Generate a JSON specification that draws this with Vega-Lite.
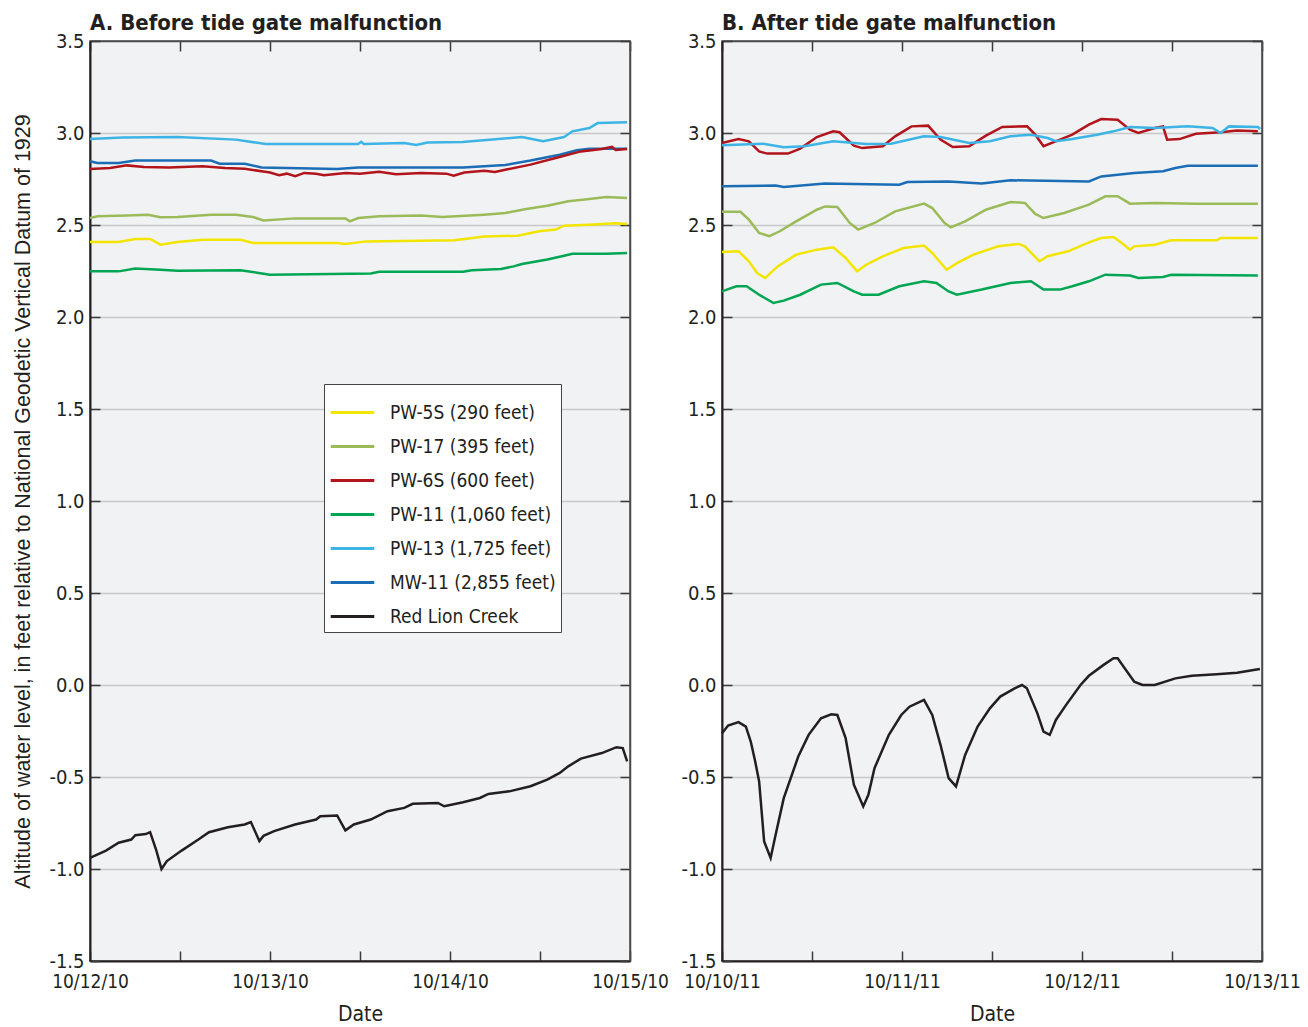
{
"$schema": "https://vega.github.io/schema/vega-lite/v6.json",
"autosize": {"type": "pad"},
"padding": {"left": 12, "top": 11, "right": 5, "bottom": 0},
"background": "white",
"spacing": 92,
"bounds": "flush",
"resolve": {"scale": {"x": "independent", "y": "independent", "color": "independent"}, "legend": {"color": "independent"}},
"config": {
  "view": {"fill": "#f1f2f4", "stroke": "#4a4a4a", "strokeWidth": 1.5},
  "axis": {"labelFont": "DejaVu Sans Condensed, Roboto, sans-serif", "labelFontSize": 19, "labelColor": "#231f20", "titleFont": "DejaVu Sans Condensed, Roboto, sans-serif", "titleFontSize": 21, "titleFontWeight": "normal", "titleColor": "#231f20", "domainColor": "#231f20", "domainWidth": 2, "tickColor": "#3a3a3a", "tickWidth": 1.5, "tickSize": -10, "gridColor": "#c8c8c8", "gridWidth": 1.5, "labelOverlap": false, "labelBound": false, "labelFlush": false},
  "title": {"font": "DejaVu Sans Condensed, Roboto, sans-serif", "fontSize": 22, "fontWeight": "bold", "color": "#231f20", "anchor": "start", "frame": "group", "offset": -4},
  "legend": {"labelFont": "DejaVu Sans Condensed, Roboto, sans-serif", "labelFontSize": 19, "labelColor": "#231f20", "labelLimit": 400}
},
"datasets": {"d": [
{"p":"A","s":"Red Lion Creek","t":"2010-10-12T00:00","v":-0.94},
{"p":"A","s":"Red Lion Creek","t":"2010-10-12T02:08","v":-0.90},
{"p":"A","s":"Red Lion Creek","t":"2010-10-12T03:49","v":-0.857},
{"p":"A","s":"Red Lion Creek","t":"2010-10-12T05:30","v":-0.84},
{"p":"A","s":"Red Lion Creek","t":"2010-10-12T06:03","v":-0.816},
{"p":"A","s":"Red Lion Creek","t":"2010-10-12T07:26","v":-0.81},
{"p":"A","s":"Red Lion Creek","t":"2010-10-12T08:01","v":-0.80},
{"p":"A","s":"Red Lion Creek","t":"2010-10-12T08:51","v":-0.90},
{"p":"A","s":"Red Lion Creek","t":"2010-10-12T09:32","v":-1.0},
{"p":"A","s":"Red Lion Creek","t":"2010-10-12T10:15","v":-0.957},
{"p":"A","s":"Red Lion Creek","t":"2010-10-12T12:13","v":-0.90},
{"p":"A","s":"Red Lion Creek","t":"2010-10-12T14:27","v":-0.84},
{"p":"A","s":"Red Lion Creek","t":"2010-10-12T15:52","v":-0.80},
{"p":"A","s":"Red Lion Creek","t":"2010-10-12T18:23","v":-0.773},
{"p":"A","s":"Red Lion Creek","t":"2010-10-12T20:37","v":-0.758},
{"p":"A","s":"Red Lion Creek","t":"2010-10-12T21:27","v":-0.745},
{"p":"A","s":"Red Lion Creek","t":"2010-10-12T22:35","v":-0.848},
{"p":"A","s":"Red Lion Creek","t":"2010-10-12T23:08","v":-0.82},
{"p":"A","s":"Red Lion Creek","t":"2010-10-13T00:33","v":-0.794},
{"p":"A","s":"Red Lion Creek","t":"2010-10-13T03:20","v":-0.758},
{"p":"A","s":"Red Lion Creek","t":"2010-10-13T06:09","v":-0.731},
{"p":"A","s":"Red Lion Creek","t":"2010-10-13T06:42","v":-0.713},
{"p":"A","s":"Red Lion Creek","t":"2010-10-13T08:57","v":-0.709},
{"p":"A","s":"Red Lion Creek","t":"2010-10-13T10:03","v":-0.79},
{"p":"A","s":"Red Lion Creek","t":"2010-10-13T11:11","v":-0.758},
{"p":"A","s":"Red Lion Creek","t":"2010-10-13T13:26","v":-0.731},
{"p":"A","s":"Red Lion Creek","t":"2010-10-13T15:40","v":-0.686},
{"p":"A","s":"Red Lion Creek","t":"2010-10-13T17:54","v":-0.668},
{"p":"A","s":"Red Lion Creek","t":"2010-10-13T19:02","v":-0.646},
{"p":"A","s":"Red Lion Creek","t":"2010-10-13T22:23","v":-0.641},
{"p":"A","s":"Red Lion Creek","t":"2010-10-13T23:14","v":-0.659},
{"p":"A","s":"Red Lion Creek","t":"2010-10-14T01:45","v":-0.637},
{"p":"A","s":"Red Lion Creek","t":"2010-10-14T03:59","v":-0.614},
{"p":"A","s":"Red Lion Creek","t":"2010-10-14T05:07","v":-0.592},
{"p":"A","s":"Red Lion Creek","t":"2010-10-14T07:55","v":-0.578},
{"p":"A","s":"Red Lion Creek","t":"2010-10-14T10:44","v":-0.55},
{"p":"A","s":"Red Lion Creek","t":"2010-10-14T12:58","v":-0.514},
{"p":"A","s":"Red Lion Creek","t":"2010-10-14T14:38","v":-0.478},
{"p":"A","s":"Red Lion Creek","t":"2010-10-14T15:46","v":-0.442},
{"p":"A","s":"Red Lion Creek","t":"2010-10-14T17:27","v":-0.40},
{"p":"A","s":"Red Lion Creek","t":"2010-10-14T20:15","v":-0.37},
{"p":"A","s":"Red Lion Creek","t":"2010-10-14T22:12","v":-0.338},
{"p":"A","s":"Red Lion Creek","t":"2010-10-14T23:02","v":-0.343},
{"p":"A","s":"Red Lion Creek","t":"2010-10-14T23:37","v":-0.415},
{"p":"A","s":"PW-13 (1,725 feet)","t":"2010-10-12T00:00","v":2.967},
{"p":"A","s":"PW-13 (1,725 feet)","t":"2010-10-12T04:19","v":2.976},
{"p":"A","s":"PW-13 (1,725 feet)","t":"2010-10-12T11:40","v":2.978},
{"p":"A","s":"PW-13 (1,725 feet)","t":"2010-10-12T19:26","v":2.964},
{"p":"A","s":"PW-13 (1,725 feet)","t":"2010-10-12T23:25","v":2.94},
{"p":"A","s":"PW-13 (1,725 feet)","t":"2010-10-13T11:46","v":2.94},
{"p":"A","s":"PW-13 (1,725 feet)","t":"2010-10-13T12:10","v":2.952},
{"p":"A","s":"PW-13 (1,725 feet)","t":"2010-10-13T12:30","v":2.94},
{"p":"A","s":"PW-13 (1,725 feet)","t":"2010-10-13T17:54","v":2.946},
{"p":"A","s":"PW-13 (1,725 feet)","t":"2010-10-13T19:30","v":2.935},
{"p":"A","s":"PW-13 (1,725 feet)","t":"2010-10-13T21:00","v":2.948},
{"p":"A","s":"PW-13 (1,725 feet)","t":"2010-10-14T01:41","v":2.951},
{"p":"A","s":"PW-13 (1,725 feet)","t":"2010-10-14T09:36","v":2.978},
{"p":"A","s":"PW-13 (1,725 feet)","t":"2010-10-14T12:25","v":2.955},
{"p":"A","s":"PW-13 (1,725 feet)","t":"2010-10-14T15:13","v":2.978},
{"p":"A","s":"PW-13 (1,725 feet)","t":"2010-10-14T16:19","v":3.009},
{"p":"A","s":"PW-13 (1,725 feet)","t":"2010-10-14T18:35","v":3.027},
{"p":"A","s":"PW-13 (1,725 feet)","t":"2010-10-14T19:41","v":3.054},
{"p":"A","s":"PW-13 (1,725 feet)","t":"2010-10-14T23:37","v":3.058},
{"p":"A","s":"MW-11 (2,855 feet)","t":"2010-10-12T00:00","v":2.846},
{"p":"A","s":"MW-11 (2,855 feet)","t":"2010-10-12T00:58","v":2.837},
{"p":"A","s":"MW-11 (2,855 feet)","t":"2010-10-12T03:49","v":2.837},
{"p":"A","s":"MW-11 (2,855 feet)","t":"2010-10-12T06:03","v":2.85},
{"p":"A","s":"MW-11 (2,855 feet)","t":"2010-10-12T16:08","v":2.85},
{"p":"A","s":"MW-11 (2,855 feet)","t":"2010-10-12T17:17","v":2.833},
{"p":"A","s":"MW-11 (2,855 feet)","t":"2010-10-12T20:38","v":2.833},
{"p":"A","s":"MW-11 (2,855 feet)","t":"2010-10-12T22:52","v":2.813},
{"p":"A","s":"MW-11 (2,855 feet)","t":"2010-10-13T08:57","v":2.804},
{"p":"A","s":"MW-11 (2,855 feet)","t":"2010-10-13T11:46","v":2.813},
{"p":"A","s":"MW-11 (2,855 feet)","t":"2010-10-14T01:45","v":2.813},
{"p":"A","s":"MW-11 (2,855 feet)","t":"2010-10-14T07:22","v":2.826},
{"p":"A","s":"MW-11 (2,855 feet)","t":"2010-10-14T10:44","v":2.85},
{"p":"A","s":"MW-11 (2,855 feet)","t":"2010-10-14T14:38","v":2.882},
{"p":"A","s":"MW-11 (2,855 feet)","t":"2010-10-14T16:54","v":2.906},
{"p":"A","s":"MW-11 (2,855 feet)","t":"2010-10-14T18:35","v":2.915},
{"p":"A","s":"MW-11 (2,855 feet)","t":"2010-10-14T23:37","v":2.915},
{"p":"A","s":"PW-6S (600 feet)","t":"2010-10-12T00:00","v":2.804},
{"p":"A","s":"PW-6S (600 feet)","t":"2010-10-12T02:41","v":2.81},
{"p":"A","s":"PW-6S (600 feet)","t":"2010-10-12T04:55","v":2.824},
{"p":"A","s":"PW-6S (600 feet)","t":"2010-10-12T07:12","v":2.815},
{"p":"A","s":"PW-6S (600 feet)","t":"2010-10-12T10:32","v":2.813},
{"p":"A","s":"PW-6S (600 feet)","t":"2010-10-12T15:01","v":2.819},
{"p":"A","s":"PW-6S (600 feet)","t":"2010-10-12T18:00","v":2.81},
{"p":"A","s":"PW-6S (600 feet)","t":"2010-10-12T20:38","v":2.806},
{"p":"A","s":"PW-6S (600 feet)","t":"2010-10-12T22:52","v":2.792},
{"p":"A","s":"PW-6S (600 feet)","t":"2010-10-13T00:00","v":2.785},
{"p":"A","s":"PW-6S (600 feet)","t":"2010-10-13T01:12","v":2.77},
{"p":"A","s":"PW-6S (600 feet)","t":"2010-10-13T02:14","v":2.779},
{"p":"A","s":"PW-6S (600 feet)","t":"2010-10-13T03:22","v":2.765},
{"p":"A","s":"PW-6S (600 feet)","t":"2010-10-13T04:34","v":2.783},
{"p":"A","s":"PW-6S (600 feet)","t":"2010-10-13T06:09","v":2.779},
{"p":"A","s":"PW-6S (600 feet)","t":"2010-10-13T07:12","v":2.77},
{"p":"A","s":"PW-6S (600 feet)","t":"2010-10-13T10:05","v":2.783},
{"p":"A","s":"PW-6S (600 feet)","t":"2010-10-13T12:00","v":2.778},
{"p":"A","s":"PW-6S (600 feet)","t":"2010-10-13T14:33","v":2.79},
{"p":"A","s":"PW-6S (600 feet)","t":"2010-10-13T16:48","v":2.776},
{"p":"A","s":"PW-6S (600 feet)","t":"2010-10-13T20:10","v":2.783},
{"p":"A","s":"PW-6S (600 feet)","t":"2010-10-13T23:31","v":2.779},
{"p":"A","s":"PW-6S (600 feet)","t":"2010-10-14T00:29","v":2.768},
{"p":"A","s":"PW-6S (600 feet)","t":"2010-10-14T01:55","v":2.785},
{"p":"A","s":"PW-6S (600 feet)","t":"2010-10-14T04:34","v":2.795},
{"p":"A","s":"PW-6S (600 feet)","t":"2010-10-14T06:00","v":2.788},
{"p":"A","s":"PW-6S (600 feet)","t":"2010-10-14T07:22","v":2.8},
{"p":"A","s":"PW-6S (600 feet)","t":"2010-10-14T10:44","v":2.828},
{"p":"A","s":"PW-6S (600 feet)","t":"2010-10-14T14:05","v":2.864},
{"p":"A","s":"PW-6S (600 feet)","t":"2010-10-14T17:27","v":2.9},
{"p":"A","s":"PW-6S (600 feet)","t":"2010-10-14T20:15","v":2.913},
{"p":"A","s":"PW-6S (600 feet)","t":"2010-10-14T21:36","v":2.925},
{"p":"A","s":"PW-6S (600 feet)","t":"2010-10-14T22:05","v":2.908},
{"p":"A","s":"PW-6S (600 feet)","t":"2010-10-14T23:37","v":2.913},
{"p":"A","s":"PW-17 (395 feet)","t":"2010-10-12T00:00","v":2.538},
{"p":"A","s":"PW-17 (395 feet)","t":"2010-10-12T01:00","v":2.547},
{"p":"A","s":"PW-17 (395 feet)","t":"2010-10-12T04:55","v":2.551},
{"p":"A","s":"PW-17 (395 feet)","t":"2010-10-12T07:44","v":2.556},
{"p":"A","s":"PW-17 (395 feet)","t":"2010-10-12T09:24","v":2.542},
{"p":"A","s":"PW-17 (395 feet)","t":"2010-10-12T11:40","v":2.543},
{"p":"A","s":"PW-17 (395 feet)","t":"2010-10-12T16:08","v":2.556},
{"p":"A","s":"PW-17 (395 feet)","t":"2010-10-12T19:26","v":2.556},
{"p":"A","s":"PW-17 (395 feet)","t":"2010-10-12T21:45","v":2.543},
{"p":"A","s":"PW-17 (395 feet)","t":"2010-10-12T23:08","v":2.525},
{"p":"A","s":"PW-17 (395 feet)","t":"2010-10-13T03:20","v":2.536},
{"p":"A","s":"PW-17 (395 feet)","t":"2010-10-13T10:05","v":2.536},
{"p":"A","s":"PW-17 (395 feet)","t":"2010-10-13T10:38","v":2.52},
{"p":"A","s":"PW-17 (395 feet)","t":"2010-10-13T11:46","v":2.538},
{"p":"A","s":"PW-17 (395 feet)","t":"2010-10-13T14:33","v":2.547},
{"p":"A","s":"PW-17 (395 feet)","t":"2010-10-13T20:10","v":2.551},
{"p":"A","s":"PW-17 (395 feet)","t":"2010-10-13T22:58","v":2.543},
{"p":"A","s":"PW-17 (395 feet)","t":"2010-10-14T04:34","v":2.556},
{"p":"A","s":"PW-17 (395 feet)","t":"2010-10-14T07:22","v":2.565},
{"p":"A","s":"PW-17 (395 feet)","t":"2010-10-14T10:10","v":2.587},
{"p":"A","s":"PW-17 (395 feet)","t":"2010-10-14T12:58","v":2.605},
{"p":"A","s":"PW-17 (395 feet)","t":"2010-10-14T15:46","v":2.629},
{"p":"A","s":"PW-17 (395 feet)","t":"2010-10-14T18:35","v":2.641},
{"p":"A","s":"PW-17 (395 feet)","t":"2010-10-14T20:50","v":2.652},
{"p":"A","s":"PW-17 (395 feet)","t":"2010-10-14T23:37","v":2.647},
{"p":"A","s":"PW-5S (290 feet)","t":"2010-10-12T00:00","v":2.408},
{"p":"A","s":"PW-5S (290 feet)","t":"2010-10-12T03:49","v":2.408},
{"p":"A","s":"PW-5S (290 feet)","t":"2010-10-12T06:03","v":2.424},
{"p":"A","s":"PW-5S (290 feet)","t":"2010-10-12T08:01","v":2.424},
{"p":"A","s":"PW-5S (290 feet)","t":"2010-10-12T09:24","v":2.393},
{"p":"A","s":"PW-5S (290 feet)","t":"2010-10-12T11:40","v":2.408},
{"p":"A","s":"PW-5S (290 feet)","t":"2010-10-12T15:01","v":2.42},
{"p":"A","s":"PW-5S (290 feet)","t":"2010-10-12T20:04","v":2.42},
{"p":"A","s":"PW-5S (290 feet)","t":"2010-10-12T21:45","v":2.402},
{"p":"A","s":"PW-5S (290 feet)","t":"2010-10-13T08:57","v":2.402},
{"p":"A","s":"PW-5S (290 feet)","t":"2010-10-13T10:05","v":2.397},
{"p":"A","s":"PW-5S (290 feet)","t":"2010-10-13T12:52","v":2.411},
{"p":"A","s":"PW-5S (290 feet)","t":"2010-10-14T00:37","v":2.417},
{"p":"A","s":"PW-5S (290 feet)","t":"2010-10-14T04:34","v":2.438},
{"p":"A","s":"PW-5S (290 feet)","t":"2010-10-14T09:03","v":2.442},
{"p":"A","s":"PW-5S (290 feet)","t":"2010-10-14T11:51","v":2.466},
{"p":"A","s":"PW-5S (290 feet)","t":"2010-10-14T14:05","v":2.475},
{"p":"A","s":"PW-5S (290 feet)","t":"2010-10-14T15:13","v":2.496},
{"p":"A","s":"PW-5S (290 feet)","t":"2010-10-14T18:35","v":2.502},
{"p":"A","s":"PW-5S (290 feet)","t":"2010-10-14T21:58","v":2.51},
{"p":"A","s":"PW-5S (290 feet)","t":"2010-10-14T23:37","v":2.505},
{"p":"A","s":"PW-11 (1,060 feet)","t":"2010-10-12T00:00","v":2.248},
{"p":"A","s":"PW-11 (1,060 feet)","t":"2010-10-12T03:49","v":2.248},
{"p":"A","s":"PW-11 (1,060 feet)","t":"2010-10-12T06:03","v":2.264},
{"p":"A","s":"PW-11 (1,060 feet)","t":"2010-10-12T09:24","v":2.257},
{"p":"A","s":"PW-11 (1,060 feet)","t":"2010-10-12T11:40","v":2.252},
{"p":"A","s":"PW-11 (1,060 feet)","t":"2010-10-12T20:04","v":2.254},
{"p":"A","s":"PW-11 (1,060 feet)","t":"2010-10-12T23:59","v":2.23},
{"p":"A","s":"PW-11 (1,060 feet)","t":"2010-10-13T13:26","v":2.236},
{"p":"A","s":"PW-11 (1,060 feet)","t":"2010-10-13T14:33","v":2.246},
{"p":"A","s":"PW-11 (1,060 feet)","t":"2010-10-14T01:45","v":2.246},
{"p":"A","s":"PW-11 (1,060 feet)","t":"2010-10-14T02:53","v":2.254},
{"p":"A","s":"PW-11 (1,060 feet)","t":"2010-10-14T06:48","v":2.261},
{"p":"A","s":"PW-11 (1,060 feet)","t":"2010-10-14T08:28","v":2.275},
{"p":"A","s":"PW-11 (1,060 feet)","t":"2010-10-14T09:36","v":2.288},
{"p":"A","s":"PW-11 (1,060 feet)","t":"2010-10-14T12:58","v":2.312},
{"p":"A","s":"PW-11 (1,060 feet)","t":"2010-10-14T15:13","v":2.333},
{"p":"A","s":"PW-11 (1,060 feet)","t":"2010-10-14T16:19","v":2.344},
{"p":"A","s":"PW-11 (1,060 feet)","t":"2010-10-14T20:50","v":2.344},
{"p":"A","s":"PW-11 (1,060 feet)","t":"2010-10-14T23:37","v":2.348},
{"p":"B","s":"Red Lion Creek","t":"2011-10-10T00:00","v":-0.262},
{"p":"B","s":"Red Lion Creek","t":"2011-10-10T00:49","v":-0.22},
{"p":"B","s":"Red Lion Creek","t":"2011-10-10T02:12","v":-0.202},
{"p":"B","s":"Red Lion Creek","t":"2011-10-10T03:11","v":-0.226},
{"p":"B","s":"Red Lion Creek","t":"2011-10-10T03:50","v":-0.307},
{"p":"B","s":"Red Lion Creek","t":"2011-10-10T04:23","v":-0.407},
{"p":"B","s":"Red Lion Creek","t":"2011-10-10T04:57","v":-0.524},
{"p":"B","s":"Red Lion Creek","t":"2011-10-10T05:37","v":-0.85},
{"p":"B","s":"Red Lion Creek","t":"2011-10-10T06:29","v":-0.94},
{"p":"B","s":"Red Lion Creek","t":"2011-10-10T07:09","v":-0.814},
{"p":"B","s":"Red Lion Creek","t":"2011-10-10T08:14","v":-0.615},
{"p":"B","s":"Red Lion Creek","t":"2011-10-10T10:10","v":-0.389},
{"p":"B","s":"Red Lion Creek","t":"2011-10-10T11:33","v":-0.271},
{"p":"B","s":"Red Lion Creek","t":"2011-10-10T13:12","v":-0.181},
{"p":"B","s":"Red Lion Creek","t":"2011-10-10T14:34","v":-0.159},
{"p":"B","s":"Red Lion Creek","t":"2011-10-10T15:23","v":-0.163},
{"p":"B","s":"Red Lion Creek","t":"2011-10-10T16:29","v":-0.289},
{"p":"B","s":"Red Lion Creek","t":"2011-10-10T17:35","v":-0.542},
{"p":"B","s":"Red Lion Creek","t":"2011-10-10T18:50","v":-0.66},
{"p":"B","s":"Red Lion Creek","t":"2011-10-10T19:31","v":-0.597},
{"p":"B","s":"Red Lion Creek","t":"2011-10-10T20:20","v":-0.452},
{"p":"B","s":"Red Lion Creek","t":"2011-10-10T22:15","v":-0.271},
{"p":"B","s":"Red Lion Creek","t":"2011-10-10T23:54","v":-0.163},
{"p":"B","s":"Red Lion Creek","t":"2011-10-11T01:00","v":-0.118},
{"p":"B","s":"Red Lion Creek","t":"2011-10-11T02:56","v":-0.081},
{"p":"B","s":"Red Lion Creek","t":"2011-10-11T04:02","v":-0.163},
{"p":"B","s":"Red Lion Creek","t":"2011-10-11T05:08","v":-0.325},
{"p":"B","s":"Red Lion Creek","t":"2011-10-11T06:13","v":-0.506},
{"p":"B","s":"Red Lion Creek","t":"2011-10-11T07:12","v":-0.551},
{"p":"B","s":"Red Lion Creek","t":"2011-10-11T08:25","v":-0.38},
{"p":"B","s":"Red Lion Creek","t":"2011-10-11T10:05","v":-0.226},
{"p":"B","s":"Red Lion Creek","t":"2011-10-11T11:43","v":-0.127},
{"p":"B","s":"Red Lion Creek","t":"2011-10-11T13:06","v":-0.063},
{"p":"B","s":"Red Lion Creek","t":"2011-10-11T15:01","v":-0.018},
{"p":"B","s":"Red Lion Creek","t":"2011-10-11T16:00","v":0.0},
{"p":"B","s":"Red Lion Creek","t":"2011-10-11T16:39","v":-0.018},
{"p":"B","s":"Red Lion Creek","t":"2011-10-11T18:03","v":-0.154},
{"p":"B","s":"Red Lion Creek","t":"2011-10-11T18:52","v":-0.253},
{"p":"B","s":"Red Lion Creek","t":"2011-10-11T19:42","v":-0.271},
{"p":"B","s":"Red Lion Creek","t":"2011-10-11T20:31","v":-0.19},
{"p":"B","s":"Red Lion Creek","t":"2011-10-11T21:53","v":-0.108},
{"p":"B","s":"Red Lion Creek","t":"2011-10-11T23:48","v":0.0},
{"p":"B","s":"Red Lion Creek","t":"2011-10-12T00:55","v":0.05},
{"p":"B","s":"Red Lion Creek","t":"2011-10-12T02:50","v":0.108},
{"p":"B","s":"Red Lion Creek","t":"2011-10-12T04:12","v":0.145},
{"p":"B","s":"Red Lion Creek","t":"2011-10-12T04:45","v":0.145},
{"p":"B","s":"Red Lion Creek","t":"2011-10-12T06:58","v":0.018},
{"p":"B","s":"Red Lion Creek","t":"2011-10-12T08:04","v":0.0},
{"p":"B","s":"Red Lion Creek","t":"2011-10-12T09:42","v":0.0},
{"p":"B","s":"Red Lion Creek","t":"2011-10-12T12:27","v":0.036},
{"p":"B","s":"Red Lion Creek","t":"2011-10-12T14:38","v":0.05},
{"p":"B","s":"Red Lion Creek","t":"2011-10-12T17:57","v":0.058},
{"p":"B","s":"Red Lion Creek","t":"2011-10-12T20:41","v":0.067},
{"p":"B","s":"Red Lion Creek","t":"2011-10-12T22:53","v":0.081},
{"p":"B","s":"Red Lion Creek","t":"2011-10-12T23:43","v":0.087},
{"p":"B","s":"PW-6S (600 feet)","t":"2011-10-10T00:00","v":2.946},
{"p":"B","s":"PW-6S (600 feet)","t":"2011-10-10T02:12","v":2.967},
{"p":"B","s":"PW-6S (600 feet)","t":"2011-10-10T03:35","v":2.955},
{"p":"B","s":"PW-6S (600 feet)","t":"2011-10-10T04:57","v":2.9},
{"p":"B","s":"PW-6S (600 feet)","t":"2011-10-10T06:03","v":2.888},
{"p":"B","s":"PW-6S (600 feet)","t":"2011-10-10T08:47","v":2.888},
{"p":"B","s":"PW-6S (600 feet)","t":"2011-10-10T10:26","v":2.915},
{"p":"B","s":"PW-6S (600 feet)","t":"2011-10-10T12:39","v":2.978},
{"p":"B","s":"PW-6S (600 feet)","t":"2011-10-10T14:50","v":3.009},
{"p":"B","s":"PW-6S (600 feet)","t":"2011-10-10T15:40","v":3.004},
{"p":"B","s":"PW-6S (600 feet)","t":"2011-10-10T17:35","v":2.931},
{"p":"B","s":"PW-6S (600 feet)","t":"2011-10-10T18:42","v":2.918},
{"p":"B","s":"PW-6S (600 feet)","t":"2011-10-10T21:26","v":2.928},
{"p":"B","s":"PW-6S (600 feet)","t":"2011-10-10T23:05","v":2.982},
{"p":"B","s":"PW-6S (600 feet)","t":"2011-10-11T01:16","v":3.036},
{"p":"B","s":"PW-6S (600 feet)","t":"2011-10-11T03:29","v":3.04},
{"p":"B","s":"PW-6S (600 feet)","t":"2011-10-11T05:08","v":2.964},
{"p":"B","s":"PW-6S (600 feet)","t":"2011-10-11T06:46","v":2.924},
{"p":"B","s":"PW-6S (600 feet)","t":"2011-10-11T08:58","v":2.928},
{"p":"B","s":"PW-6S (600 feet)","t":"2011-10-11T11:11","v":2.986},
{"p":"B","s":"PW-6S (600 feet)","t":"2011-10-11T13:22","v":3.033},
{"p":"B","s":"PW-6S (600 feet)","t":"2011-10-11T16:41","v":3.036},
{"p":"B","s":"PW-6S (600 feet)","t":"2011-10-11T17:46","v":2.991},
{"p":"B","s":"PW-6S (600 feet)","t":"2011-10-11T18:52","v":2.928},
{"p":"B","s":"PW-6S (600 feet)","t":"2011-10-11T21:04","v":2.964},
{"p":"B","s":"PW-6S (600 feet)","t":"2011-10-11T22:42","v":2.991},
{"p":"B","s":"PW-6S (600 feet)","t":"2011-10-12T00:55","v":3.045},
{"p":"B","s":"PW-6S (600 feet)","t":"2011-10-12T02:34","v":3.076},
{"p":"B","s":"PW-6S (600 feet)","t":"2011-10-12T04:45","v":3.072},
{"p":"B","s":"PW-6S (600 feet)","t":"2011-10-12T06:24","v":3.018},
{"p":"B","s":"PW-6S (600 feet)","t":"2011-10-12T07:31","v":3.0},
{"p":"B","s":"PW-6S (600 feet)","t":"2011-10-12T09:42","v":3.027},
{"p":"B","s":"PW-6S (600 feet)","t":"2011-10-12T10:48","v":3.036},
{"p":"B","s":"PW-6S (600 feet)","t":"2011-10-12T11:21","v":2.964},
{"p":"B","s":"PW-6S (600 feet)","t":"2011-10-12T13:00","v":2.967},
{"p":"B","s":"PW-6S (600 feet)","t":"2011-10-12T15:11","v":2.996},
{"p":"B","s":"PW-6S (600 feet)","t":"2011-10-12T18:30","v":3.004},
{"p":"B","s":"PW-6S (600 feet)","t":"2011-10-12T20:41","v":3.013},
{"p":"B","s":"PW-6S (600 feet)","t":"2011-10-12T23:27","v":3.009},
{"p":"B","s":"PW-13 (1,725 feet)","t":"2011-10-10T00:00","v":2.933},
{"p":"B","s":"PW-13 (1,725 feet)","t":"2011-10-10T05:30","v":2.942},
{"p":"B","s":"PW-13 (1,725 feet)","t":"2011-10-10T08:14","v":2.922},
{"p":"B","s":"PW-13 (1,725 feet)","t":"2011-10-10T10:59","v":2.928},
{"p":"B","s":"PW-13 (1,725 feet)","t":"2011-10-10T14:50","v":2.955},
{"p":"B","s":"PW-13 (1,725 feet)","t":"2011-10-10T19:13","v":2.94},
{"p":"B","s":"PW-13 (1,725 feet)","t":"2011-10-10T22:32","v":2.942},
{"p":"B","s":"PW-13 (1,725 feet)","t":"2011-10-11T02:56","v":2.982},
{"p":"B","s":"PW-13 (1,725 feet)","t":"2011-10-11T05:08","v":2.978},
{"p":"B","s":"PW-13 (1,725 feet)","t":"2011-10-11T08:58","v":2.946},
{"p":"B","s":"PW-13 (1,725 feet)","t":"2011-10-11T11:43","v":2.955},
{"p":"B","s":"PW-13 (1,725 feet)","t":"2011-10-11T14:28","v":2.982},
{"p":"B","s":"PW-13 (1,725 feet)","t":"2011-10-11T17:12","v":2.991},
{"p":"B","s":"PW-13 (1,725 feet)","t":"2011-10-11T19:25","v":2.973},
{"p":"B","s":"PW-13 (1,725 feet)","t":"2011-10-11T20:31","v":2.955},
{"p":"B","s":"PW-13 (1,725 feet)","t":"2011-10-11T22:42","v":2.967},
{"p":"B","s":"PW-13 (1,725 feet)","t":"2011-10-12T02:01","v":2.991},
{"p":"B","s":"PW-13 (1,725 feet)","t":"2011-10-12T04:12","v":3.009},
{"p":"B","s":"PW-13 (1,725 feet)","t":"2011-10-12T06:24","v":3.033},
{"p":"B","s":"PW-13 (1,725 feet)","t":"2011-10-12T09:42","v":3.027},
{"p":"B","s":"PW-13 (1,725 feet)","t":"2011-10-12T14:07","v":3.036},
{"p":"B","s":"PW-13 (1,725 feet)","t":"2011-10-12T17:24","v":3.027},
{"p":"B","s":"PW-13 (1,725 feet)","t":"2011-10-12T18:30","v":3.0},
{"p":"B","s":"PW-13 (1,725 feet)","t":"2011-10-12T19:36","v":3.036},
{"p":"B","s":"PW-13 (1,725 feet)","t":"2011-10-12T23:27","v":3.033},
{"p":"B","s":"PW-13 (1,725 feet)","t":"2011-10-12T23:46","v":3.022},
{"p":"B","s":"MW-11 (2,855 feet)","t":"2011-10-10T00:00","v":2.71},
{"p":"B","s":"MW-11 (2,855 feet)","t":"2011-10-10T07:09","v":2.714},
{"p":"B","s":"MW-11 (2,855 feet)","t":"2011-10-10T08:14","v":2.707},
{"p":"B","s":"MW-11 (2,855 feet)","t":"2011-10-10T13:44","v":2.725},
{"p":"B","s":"MW-11 (2,855 feet)","t":"2011-10-10T23:38","v":2.719},
{"p":"B","s":"MW-11 (2,855 feet)","t":"2011-10-11T00:43","v":2.734},
{"p":"B","s":"MW-11 (2,855 feet)","t":"2011-10-11T06:13","v":2.737},
{"p":"B","s":"MW-11 (2,855 feet)","t":"2011-10-11T10:38","v":2.725},
{"p":"B","s":"MW-11 (2,855 feet)","t":"2011-10-11T14:28","v":2.743},
{"p":"B","s":"MW-11 (2,855 feet)","t":"2011-10-12T00:55","v":2.737},
{"p":"B","s":"MW-11 (2,855 feet)","t":"2011-10-12T02:34","v":2.764},
{"p":"B","s":"MW-11 (2,855 feet)","t":"2011-10-12T06:58","v":2.783},
{"p":"B","s":"MW-11 (2,855 feet)","t":"2011-10-12T10:48","v":2.792},
{"p":"B","s":"MW-11 (2,855 feet)","t":"2011-10-12T12:27","v":2.81},
{"p":"B","s":"MW-11 (2,855 feet)","t":"2011-10-12T14:07","v":2.822},
{"p":"B","s":"MW-11 (2,855 feet)","t":"2011-10-12T23:27","v":2.822},
{"p":"B","s":"PW-17 (395 feet)","t":"2011-10-10T00:00","v":2.572},
{"p":"B","s":"PW-17 (395 feet)","t":"2011-10-10T02:28","v":2.572},
{"p":"B","s":"PW-17 (395 feet)","t":"2011-10-10T03:35","v":2.529},
{"p":"B","s":"PW-17 (395 feet)","t":"2011-10-10T04:57","v":2.457},
{"p":"B","s":"PW-17 (395 feet)","t":"2011-10-10T06:19","v":2.439},
{"p":"B","s":"PW-17 (395 feet)","t":"2011-10-10T07:42","v":2.466},
{"p":"B","s":"PW-17 (395 feet)","t":"2011-10-10T09:53","v":2.52},
{"p":"B","s":"PW-17 (395 feet)","t":"2011-10-10T12:39","v":2.583},
{"p":"B","s":"PW-17 (395 feet)","t":"2011-10-10T13:44","v":2.601},
{"p":"B","s":"PW-17 (395 feet)","t":"2011-10-10T15:23","v":2.598},
{"p":"B","s":"PW-17 (395 feet)","t":"2011-10-10T17:02","v":2.511},
{"p":"B","s":"PW-17 (395 feet)","t":"2011-10-10T18:09","v":2.475},
{"p":"B","s":"PW-17 (395 feet)","t":"2011-10-10T20:20","v":2.511},
{"p":"B","s":"PW-17 (395 feet)","t":"2011-10-10T23:05","v":2.574},
{"p":"B","s":"PW-17 (395 feet)","t":"2011-10-11T02:56","v":2.616},
{"p":"B","s":"PW-17 (395 feet)","t":"2011-10-11T04:02","v":2.592},
{"p":"B","s":"PW-17 (395 feet)","t":"2011-10-11T05:41","v":2.511},
{"p":"B","s":"PW-17 (395 feet)","t":"2011-10-11T06:30","v":2.487},
{"p":"B","s":"PW-17 (395 feet)","t":"2011-10-11T08:25","v":2.52},
{"p":"B","s":"PW-17 (395 feet)","t":"2011-10-11T11:11","v":2.583},
{"p":"B","s":"PW-17 (395 feet)","t":"2011-10-11T14:28","v":2.625},
{"p":"B","s":"PW-17 (395 feet)","t":"2011-10-11T16:23","v":2.62},
{"p":"B","s":"PW-17 (395 feet)","t":"2011-10-11T17:46","v":2.56},
{"p":"B","s":"PW-17 (395 feet)","t":"2011-10-11T18:52","v":2.538},
{"p":"B","s":"PW-17 (395 feet)","t":"2011-10-11T21:37","v":2.565},
{"p":"B","s":"PW-17 (395 feet)","t":"2011-10-12T00:55","v":2.611},
{"p":"B","s":"PW-17 (395 feet)","t":"2011-10-12T03:07","v":2.656},
{"p":"B","s":"PW-17 (395 feet)","t":"2011-10-12T04:45","v":2.656},
{"p":"B","s":"PW-17 (395 feet)","t":"2011-10-12T06:24","v":2.616},
{"p":"B","s":"PW-17 (395 feet)","t":"2011-10-12T09:42","v":2.62},
{"p":"B","s":"PW-17 (395 feet)","t":"2011-10-12T15:11","v":2.616},
{"p":"B","s":"PW-17 (395 feet)","t":"2011-10-12T23:27","v":2.616},
{"p":"B","s":"PW-5S (290 feet)","t":"2011-10-10T00:00","v":2.353},
{"p":"B","s":"PW-5S (290 feet)","t":"2011-10-10T02:12","v":2.357},
{"p":"B","s":"PW-5S (290 feet)","t":"2011-10-10T03:35","v":2.303},
{"p":"B","s":"PW-5S (290 feet)","t":"2011-10-10T04:41","v":2.239},
{"p":"B","s":"PW-5S (290 feet)","t":"2011-10-10T05:46","v":2.212},
{"p":"B","s":"PW-5S (290 feet)","t":"2011-10-10T07:25","v":2.275},
{"p":"B","s":"PW-5S (290 feet)","t":"2011-10-10T09:53","v":2.339},
{"p":"B","s":"PW-5S (290 feet)","t":"2011-10-10T12:39","v":2.366},
{"p":"B","s":"PW-5S (290 feet)","t":"2011-10-10T14:50","v":2.379},
{"p":"B","s":"PW-5S (290 feet)","t":"2011-10-10T16:29","v":2.321},
{"p":"B","s":"PW-5S (290 feet)","t":"2011-10-10T18:01","v":2.248},
{"p":"B","s":"PW-5S (290 feet)","t":"2011-10-10T19:13","v":2.284},
{"p":"B","s":"PW-5S (290 feet)","t":"2011-10-10T21:26","v":2.33},
{"p":"B","s":"PW-5S (290 feet)","t":"2011-10-11T00:12","v":2.375},
{"p":"B","s":"PW-5S (290 feet)","t":"2011-10-11T02:56","v":2.388},
{"p":"B","s":"PW-5S (290 feet)","t":"2011-10-11T04:02","v":2.348},
{"p":"B","s":"PW-5S (290 feet)","t":"2011-10-11T05:57","v":2.257},
{"p":"B","s":"PW-5S (290 feet)","t":"2011-10-11T07:19","v":2.293},
{"p":"B","s":"PW-5S (290 feet)","t":"2011-10-11T09:32","v":2.339},
{"p":"B","s":"PW-5S (290 feet)","t":"2011-10-11T12:49","v":2.384},
{"p":"B","s":"PW-5S (290 feet)","t":"2011-10-11T15:34","v":2.397},
{"p":"B","s":"PW-5S (290 feet)","t":"2011-10-11T16:23","v":2.384},
{"p":"B","s":"PW-5S (290 feet)","t":"2011-10-11T18:19","v":2.303},
{"p":"B","s":"PW-5S (290 feet)","t":"2011-10-11T19:25","v":2.33},
{"p":"B","s":"PW-5S (290 feet)","t":"2011-10-11T22:09","v":2.357},
{"p":"B","s":"PW-5S (290 feet)","t":"2011-10-12T00:55","v":2.406},
{"p":"B","s":"PW-5S (290 feet)","t":"2011-10-12T02:34","v":2.429},
{"p":"B","s":"PW-5S (290 feet)","t":"2011-10-12T04:12","v":2.435},
{"p":"B","s":"PW-5S (290 feet)","t":"2011-10-12T05:18","v":2.402},
{"p":"B","s":"PW-5S (290 feet)","t":"2011-10-12T06:24","v":2.366},
{"p":"B","s":"PW-5S (290 feet)","t":"2011-10-12T06:58","v":2.384},
{"p":"B","s":"PW-5S (290 feet)","t":"2011-10-12T09:42","v":2.393},
{"p":"B","s":"PW-5S (290 feet)","t":"2011-10-12T11:54","v":2.417},
{"p":"B","s":"PW-5S (290 feet)","t":"2011-10-12T17:57","v":2.417},
{"p":"B","s":"PW-5S (290 feet)","t":"2011-10-12T18:30","v":2.429},
{"p":"B","s":"PW-5S (290 feet)","t":"2011-10-12T23:27","v":2.429},
{"p":"B","s":"PW-11 (1,060 feet)","t":"2011-10-10T00:00","v":2.139},
{"p":"B","s":"PW-11 (1,060 feet)","t":"2011-10-10T01:55","v":2.167},
{"p":"B","s":"PW-11 (1,060 feet)","t":"2011-10-10T03:17","v":2.167},
{"p":"B","s":"PW-11 (1,060 feet)","t":"2011-10-10T04:57","v":2.121},
{"p":"B","s":"PW-11 (1,060 feet)","t":"2011-10-10T06:52","v":2.076},
{"p":"B","s":"PW-11 (1,060 feet)","t":"2011-10-10T08:14","v":2.089},
{"p":"B","s":"PW-11 (1,060 feet)","t":"2011-10-10T10:26","v":2.121},
{"p":"B","s":"PW-11 (1,060 feet)","t":"2011-10-10T13:12","v":2.176},
{"p":"B","s":"PW-11 (1,060 feet)","t":"2011-10-10T15:23","v":2.185},
{"p":"B","s":"PW-11 (1,060 feet)","t":"2011-10-10T17:35","v":2.139},
{"p":"B","s":"PW-11 (1,060 feet)","t":"2011-10-10T18:42","v":2.121},
{"p":"B","s":"PW-11 (1,060 feet)","t":"2011-10-10T20:53","v":2.121},
{"p":"B","s":"PW-11 (1,060 feet)","t":"2011-10-10T23:38","v":2.167},
{"p":"B","s":"PW-11 (1,060 feet)","t":"2011-10-11T02:56","v":2.194},
{"p":"B","s":"PW-11 (1,060 feet)","t":"2011-10-11T04:35","v":2.185},
{"p":"B","s":"PW-11 (1,060 feet)","t":"2011-10-11T06:13","v":2.139},
{"p":"B","s":"PW-11 (1,060 feet)","t":"2011-10-11T07:19","v":2.121},
{"p":"B","s":"PW-11 (1,060 feet)","t":"2011-10-11T10:38","v":2.149},
{"p":"B","s":"PW-11 (1,060 feet)","t":"2011-10-11T14:28","v":2.185},
{"p":"B","s":"PW-11 (1,060 feet)","t":"2011-10-11T17:12","v":2.194},
{"p":"B","s":"PW-11 (1,060 feet)","t":"2011-10-11T18:52","v":2.149},
{"p":"B","s":"PW-11 (1,060 feet)","t":"2011-10-11T21:04","v":2.149},
{"p":"B","s":"PW-11 (1,060 feet)","t":"2011-10-11T22:42","v":2.167},
{"p":"B","s":"PW-11 (1,060 feet)","t":"2011-10-12T00:55","v":2.194},
{"p":"B","s":"PW-11 (1,060 feet)","t":"2011-10-12T03:07","v":2.23},
{"p":"B","s":"PW-11 (1,060 feet)","t":"2011-10-12T06:24","v":2.225},
{"p":"B","s":"PW-11 (1,060 feet)","t":"2011-10-12T07:31","v":2.212},
{"p":"B","s":"PW-11 (1,060 feet)","t":"2011-10-12T10:48","v":2.217},
{"p":"B","s":"PW-11 (1,060 feet)","t":"2011-10-12T11:54","v":2.23},
{"p":"B","s":"PW-11 (1,060 feet)","t":"2011-10-12T23:27","v":2.225}
]},
"hconcat": [
{
  "width": 540, "height": 920,
  "data": {"name": "d"},
  "title": {"text": "A. Before tide gate malfunction"},
  "layer": [
    {
      "transform": [{"filter": "datum.p == 'A' && datum.s != 'Red Lion Creek'"}],
      "mark": {"type": "line", "strokeWidth": 2.5},
      "encoding": {
        "x": {"field": "t", "type": "temporal",
          "scale": {"domain": [{"year": 2010, "month": 10, "date": 12}, {"year": 2010, "month": 10, "date": 15}]},
          "axis": {"orient": "bottom", "title": "Date", "grid": false, "labelPadding": 21, "titlePadding": 12,
            "values": [{"year": 2010, "month": 10, "date": 12, "hours": 0}, {"year": 2010, "month": 10, "date": 12, "hours": 12}, {"year": 2010, "month": 10, "date": 13, "hours": 0}, {"year": 2010, "month": 10, "date": 13, "hours": 12}, {"year": 2010, "month": 10, "date": 14, "hours": 0}, {"year": 2010, "month": 10, "date": 14, "hours": 12}, {"year": 2010, "month": 10, "date": 15, "hours": 0}],
            "labelExpr": "hours(datum.value) == 0 ? timeFormat(datum.value, '%m/%d/%y') : ''"}},
        "y": {"field": "v", "type": "quantitative",
          "scale": {"domain": [-1.5, 3.5], "nice": false, "zero": false},
          "axis": {"orient": "left", "title": "Altitude of water level, in feet relative to National Geodetic Vertical Datum of 1929", "titleFont": "Liberation Sans", "titleFontSize": 21.5, "titlePadding": 14, "labelPadding": 16, "labelFontSize": 20,
            "labelExpr": "replace(format(datum.value, '.1f'), '\u2212', '-')",
            "values": [-1.5, -1.0, -0.5, 0.0, 0.5, 1.0, 1.5, 2.0, 2.5, 3.0, 3.5],
            "gridColor": {"condition": {"test": "datum.value == 3.5 || datum.value == -1.5", "value": "transparent"}, "value": "#c8c8c8"}}},
        "color": {"field": "s", "type": "nominal",
          "scale": {"domain": ["PW-5S (290 feet)", "PW-17 (395 feet)", "PW-6S (600 feet)", "PW-11 (1,060 feet)", "PW-13 (1,725 feet)", "MW-11 (2,855 feet)", "Red Lion Creek"], "range": ["#f2e500", "#9bbb59", "#b2141c", "#00a651", "#3cb4e5", "#1b6db5", "#231f20"]},
          "legend": {"title": null, "orient": "none", "legendX": 234, "legendY": 343, "symbolType": "stroke", "symbolSize": 1900, "symbolStrokeWidth": 3, "fillColor": "white", "strokeColor": "#444444", "padding": 5, "labelOffset": 14, "rowPadding": 0}}
      }
    },
    {
      "transform": [{"filter": "datum.p == 'A' && datum.s == 'Red Lion Creek'"}],
      "mark": {"type": "line", "strokeWidth": 2.5},
      "encoding": {
        "x": {"field": "t", "type": "temporal",
          "axis": {"orient": "top", "title": null, "labels": false, "grid": false, "domainWidth": 1.5, "domainColor": "#4a4a4a",
            "values": [{"year": 2010, "month": 10, "date": 12, "hours": 0}, {"year": 2010, "month": 10, "date": 12, "hours": 12}, {"year": 2010, "month": 10, "date": 13, "hours": 0}, {"year": 2010, "month": 10, "date": 13, "hours": 12}, {"year": 2010, "month": 10, "date": 14, "hours": 0}, {"year": 2010, "month": 10, "date": 14, "hours": 12}, {"year": 2010, "month": 10, "date": 15, "hours": 0}]}},
        "y": {"field": "v", "type": "quantitative",
          "axis": {"orient": "right", "title": null, "labels": false, "grid": false, "domainWidth": 1.5, "domainColor": "#4a4a4a",
            "values": [-1.5, -1.0, -0.5, 0.0, 0.5, 1.0, 1.5, 2.0, 2.5, 3.0, 3.5]}},
        "color": {"field": "s", "type": "nominal"}
      }
    }
  ]
},
{
  "width": 540, "height": 920,
  "data": {"name": "d"},
  "title": {"text": "B. After tide gate malfunction"},
  "layer": [
    {
      "transform": [{"filter": "datum.p == 'B' && datum.s != 'Red Lion Creek'"}],
      "mark": {"type": "line", "strokeWidth": 2.5},
      "encoding": {
        "x": {"field": "t", "type": "temporal",
          "scale": {"domain": [{"year": 2011, "month": 10, "date": 10}, {"year": 2011, "month": 10, "date": 13}]},
          "axis": {"orient": "bottom", "title": "Date", "grid": false, "labelPadding": 21, "titlePadding": 12,
            "values": [{"year": 2011, "month": 10, "date": 10, "hours": 0}, {"year": 2011, "month": 10, "date": 10, "hours": 12}, {"year": 2011, "month": 10, "date": 11, "hours": 0}, {"year": 2011, "month": 10, "date": 11, "hours": 12}, {"year": 2011, "month": 10, "date": 12, "hours": 0}, {"year": 2011, "month": 10, "date": 12, "hours": 12}, {"year": 2011, "month": 10, "date": 13, "hours": 0}],
            "labelExpr": "hours(datum.value) == 0 ? timeFormat(datum.value, '%m/%d/%y') : ''"}},
        "y": {"field": "v", "type": "quantitative",
          "scale": {"domain": [-1.5, 3.5], "nice": false, "zero": false},
          "axis": {"orient": "left", "title": null, "labelPadding": 16, "labelFontSize": 20,
            "labelExpr": "replace(format(datum.value, '.1f'), '\u2212', '-')",
            "values": [-1.5, -1.0, -0.5, 0.0, 0.5, 1.0, 1.5, 2.0, 2.5, 3.0, 3.5],
            "gridColor": {"condition": {"test": "datum.value == 3.5 || datum.value == -1.5", "value": "transparent"}, "value": "#c8c8c8"}}},
        "color": {"field": "s", "type": "nominal",
          "scale": {"domain": ["PW-5S (290 feet)", "PW-17 (395 feet)", "PW-6S (600 feet)", "PW-11 (1,060 feet)", "PW-13 (1,725 feet)", "MW-11 (2,855 feet)", "Red Lion Creek"], "range": ["#f2e500", "#9bbb59", "#b2141c", "#00a651", "#3cb4e5", "#1b6db5", "#231f20"]},
          "legend": null}
      }
    },
    {
      "transform": [{"filter": "datum.p == 'B' && datum.s == 'Red Lion Creek'"}],
      "mark": {"type": "line", "strokeWidth": 2.5},
      "encoding": {
        "x": {"field": "t", "type": "temporal",
          "axis": {"orient": "top", "title": null, "labels": false, "grid": false, "domainWidth": 1.5, "domainColor": "#4a4a4a",
            "values": [{"year": 2011, "month": 10, "date": 10, "hours": 0}, {"year": 2011, "month": 10, "date": 10, "hours": 12}, {"year": 2011, "month": 10, "date": 11, "hours": 0}, {"year": 2011, "month": 10, "date": 11, "hours": 12}, {"year": 2011, "month": 10, "date": 12, "hours": 0}, {"year": 2011, "month": 10, "date": 12, "hours": 12}, {"year": 2011, "month": 10, "date": 13, "hours": 0}]}},
        "y": {"field": "v", "type": "quantitative",
          "axis": {"orient": "right", "title": null, "labels": false, "grid": false, "domainWidth": 1.5, "domainColor": "#4a4a4a",
            "values": [-1.5, -1.0, -0.5, 0.0, 0.5, 1.0, 1.5, 2.0, 2.5, 3.0, 3.5]}},
        "color": {"field": "s", "type": "nominal", "legend": null}
      }
    }
  ]
}
]
}
